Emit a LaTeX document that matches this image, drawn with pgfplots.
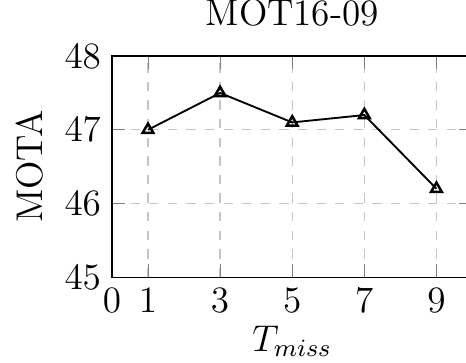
\documentclass[border=0pt]{standalone}
\usepackage{pgfplots}
\pgfplotsset{compat=1.18}
\begin{document}
\begin{tikzpicture}
\begin{axis}[
  scale only axis,
  width=116.3pt, height=71.3pt,
  xmin=0, xmax=10, ymin=45, ymax=48,
  xtick={0,1,3,5,7,9},
  ytick={45,46,47,48},
  grid=major,
  grid style={dashed, gray!45},
  title={MOT16-09},
  xlabel={$T_{miss}$},
  ylabel={MOTA},
  tick label style={font=\large},
  label style={font=\large},
  xlabel style={yshift=2.5pt},
  title style={font=\large},
]
\addplot[black, semithick, mark=triangle, mark options={solid, thick}] coordinates {
(1,47.0) (3,47.5) (5,47.1) (7,47.2) (9,46.2)
};
\coordinate (ll) at (rel axis cs:0,0);
\end{axis}
\pgfresetboundingbox
\path[use as bounding box] (ll) ++(-36.1pt,-27.4pt) rectangle ++(150.3pt,116.8pt);
\end{tikzpicture}
\end{document}
